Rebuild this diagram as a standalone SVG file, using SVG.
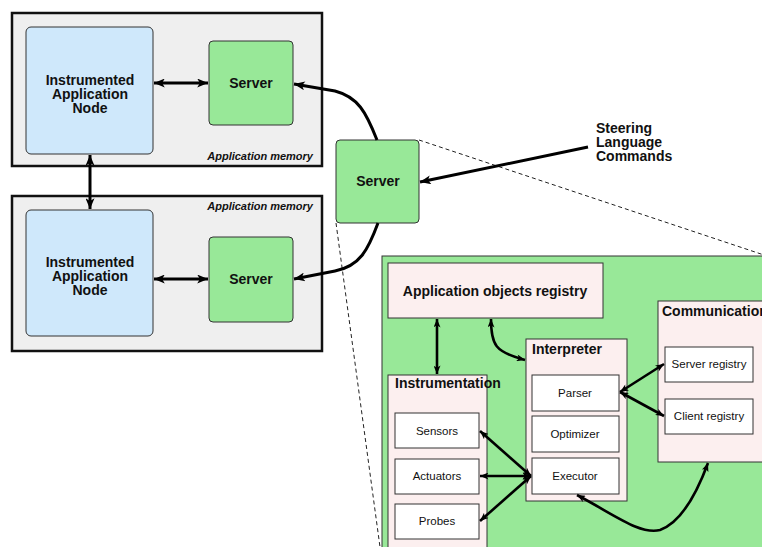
<svg xmlns="http://www.w3.org/2000/svg" width="762" height="547" viewBox="0 0 762 547">
<defs>
<marker id="ah" viewBox="0 0 12 10" refX="12" refY="5" markerWidth="12" markerHeight="9" markerUnits="userSpaceOnUse" orient="auto-start-reverse">
<path d="M0,0 L12,5 L0,10 L3,5 z" fill="#000"/>
</marker>
<marker id="as" viewBox="0 0 12 10" refX="12" refY="5" markerWidth="9" markerHeight="7" markerUnits="userSpaceOnUse" orient="auto-start-reverse">
<path d="M0,0 L12,5 L0,10 L3,5 z" fill="#000"/>
</marker>
<style>
.mem{fill:#efefef;stroke:#111;stroke-width:2.5}
.node{fill:#cfe8fb;stroke:#333;stroke-width:1}
.srv{fill:#98e898;stroke:#333;stroke-width:1}
.pink{fill:#fcefef;stroke:#333;stroke-width:1}
.white{fill:#fff;stroke:#333;stroke-width:1}
.big{fill:#98e898;stroke:#333;stroke-width:1}
.t{font-family:"Liberation Sans",Arial,sans-serif;font-weight:bold;font-size:14px;fill:#111}
.c{text-anchor:middle}
.it{font-family:"Liberation Sans",Arial,sans-serif;font-weight:bold;font-style:italic;font-size:11px;fill:#111;text-anchor:end}
.s{font-family:"Liberation Sans",Arial,sans-serif;font-size:11.5px;fill:#111;text-anchor:middle}
.ln{fill:none;stroke:#000;stroke-width:3}
.lt{fill:none;stroke:#000;stroke-width:2.6}
.dash{fill:none;stroke:#222;stroke-width:1;stroke-dasharray:4,3}
</style>
</defs>
<rect width="762" height="547" fill="#fff"/>

<g id="memory-top">
<rect class="mem" x="12" y="13" width="310" height="153"/>
<text class="it" x="313" y="160">Application memory</text>
</g>
<g id="memory-bottom">
<rect class="mem" x="12" y="196" width="310" height="155"/>
<text class="it" x="313" y="210">Application memory</text>
</g>
<g id="node-top">
<rect class="node" x="26" y="27" width="127" height="127" rx="5"/>
<text class="t c" x="90" y="85">Instrumented</text>
<text class="t c" x="90" y="99">Application</text>
<text class="t c" x="90" y="113">Node</text>
</g>
<g id="server-top">
<rect class="srv" x="209" y="41" width="84" height="84" rx="4"/>
<text class="t c" x="251" y="88">Server</text>
</g>
<g id="node-bottom">
<rect class="node" x="26" y="210" width="127" height="126" rx="5"/>
<text class="t c" x="90" y="267">Instrumented</text>
<text class="t c" x="90" y="281">Application</text>
<text class="t c" x="90" y="295">Node</text>
</g>
<g id="server-bottom">
<rect class="srv" x="209" y="237" width="84" height="85" rx="4"/>
<text class="t c" x="251" y="284">Server</text>
</g>

<g id="dashes">
<path class="dash" d="M419,140 L770,257"/>
<path class="dash" d="M336,223 L380,547"/>
</g>

<g id="server-mid">
<rect class="srv" x="336" y="140" width="83" height="83" rx="4"/>
<text class="t c" x="378" y="186">Server</text>
</g>

<g id="steering">
<text class="t" x="596" y="133">Steering</text>
<text class="t" x="596" y="147">Language</text>
<text class="t" x="596" y="161">Commands</text>
</g>

<g id="detail">
<rect class="big" x="382" y="256" width="390" height="300"/>
</g>
<g id="registry">
<rect class="pink" x="388" y="263" width="215" height="55"/>
<text class="t c" x="495" y="296">Application objects registry</text>
</g>
<g id="communication">
<rect class="pink" x="658" y="301" width="110" height="161"/>
<text class="t" x="662" y="316">Communication</text>
</g>
<g id="server-registry">
<rect class="white" x="665" y="347" width="88" height="35"/>
<text class="s" x="709" y="368">Server registry</text>
</g>
<g id="client-registry">
<rect class="white" x="665" y="399" width="88" height="35"/>
<text class="s" x="709" y="420">Client registry</text>
</g>
<g id="interpreter">
<rect class="pink" x="526" y="339" width="101" height="162"/>
<text class="t" x="532" y="354">Interpreter</text>
</g>
<g id="parser">
<rect class="white" x="532" y="375" width="87" height="36"/>
<text class="s" x="575" y="397">Parser</text>
</g>
<g id="optimizer">
<rect class="white" x="532" y="416" width="87" height="36"/>
<text class="s" x="575" y="438">Optimizer</text>
</g>
<g id="executor">
<rect class="white" x="532" y="458" width="87" height="36"/>
<text class="s" x="575" y="480">Executor</text>
</g>
<g id="instrumentation">
<rect class="pink" x="388" y="375" width="99" height="180"/>
<text class="t" x="395" y="388">Instrumentation</text>
</g>
<g id="sensors">
<rect class="white" x="395" y="413" width="84" height="35"/>
<text class="s" x="437" y="435">Sensors</text>
</g>
<g id="actuators">
<rect class="white" x="395" y="459" width="84" height="35"/>
<text class="s" x="437" y="480">Actuators</text>
</g>
<g id="probes">
<rect class="white" x="395" y="504" width="84" height="35"/>
<text class="s" x="437" y="525">Probes</text>
</g>

<g id="connectors">
<path class="ln" d="M154,83 L208,83" marker-start="url(#ah)" marker-end="url(#ah)"/>
<path class="ln" d="M154,279 L208,279" marker-start="url(#ah)" marker-end="url(#ah)"/>
<path class="ln" d="M90,155 L90,209" marker-start="url(#ah)" marker-end="url(#ah)"/>
<path class="ln" d="M377,140 C366,112 358,97 335,91 L294,84" marker-end="url(#ah)"/>
<path class="ln" d="M378,223 C368,250 360,266 335,271 L294,279" marker-end="url(#ah)"/>
<path class="ln" d="M588,147 L420,182" marker-end="url(#ah)"/>
<path class="lt" d="M437,319 L437,374" marker-start="url(#as)" marker-end="url(#as)"/>
<path class="lt" d="M491,319 C491,345 495,352 525,360" marker-start="url(#as)" marker-end="url(#as)"/>
<path class="lt" d="M620,392 L664,364" marker-start="url(#as)" marker-end="url(#as)"/>
<path class="lt" d="M620,392 L664,416" marker-start="url(#as)" marker-end="url(#as)"/>
<path class="lt" d="M480,431 L531,476" marker-start="url(#as)" marker-end="url(#as)"/>
<path class="lt" d="M480,476 L531,476" marker-start="url(#as)" marker-end="url(#as)"/>
<path class="lt" d="M480,521 L531,476" marker-start="url(#as)" marker-end="url(#as)"/>
<path class="lt" d="M577,495 C615,515 640,535 660,530 C682,522 698,490 708,463" marker-start="url(#as)" marker-end="url(#as)"/>
</g>
</svg>
